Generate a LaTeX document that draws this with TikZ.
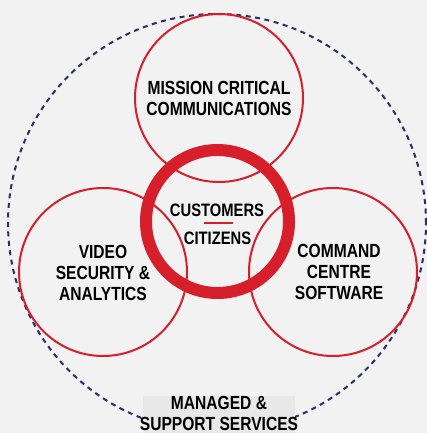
\documentclass[tikz,border=0pt]{standalone}
\usepackage{fontspec}
\newfontfamily\condfont{Liberation Sans}[FakeStretch=0.82]
\definecolor{bgc}{HTML}{F2F2F2}
\definecolor{boxc}{HTML}{E8E8E8}
\definecolor{redc}{HTML}{D71E2B}
\definecolor{navyc}{HTML}{2E2A6C}
\begin{document}
\begin{tikzpicture}[x=1pt,y=-1pt,
  thincirc/.style={circle,draw=redc,line width=2pt,minimum size=168pt,inner sep=0pt},
  lbl/.style={font=\condfont\bfseries\fontsize{19}{21}\selectfont,align=center,inner sep=0pt,text=black},
  clbl/.style={font=\condfont\bfseries\fontsize{18}{20}\selectfont,align=center,inner sep=0pt,text=black}]
\fill[bgc] (0,0) rectangle (427,433);
\useasboundingbox (0,0) rectangle (427,433);
% outer dashed circle
\node[circle,draw=navyc,line width=2pt,dash pattern=on 5pt off 4.5pt,minimum size=418pt,inner sep=0pt] (outer) at (217,223) {};
% label box
\node[fill=boxc,minimum width=152pt,minimum height=40pt,inner sep=0pt,anchor=north] (mbox) at (219,396) {};
\node[lbl] (mtext) at (219,413) {MANAGED \&\\SUPPORT SERVICES};
% three circles
\node[thincirc] (top) at (219,98) {};
\node[thincirc] (left) at (103,272) {};
\node[thincirc] (right) at (333,272) {};
% central ring
\node[circle,draw=redc,line width=12pt,minimum size=143pt,inner sep=0pt] (ring) at (217.5,221.5) {};
% texts
\node[lbl] (toptext) at (219,98.5) {MISSION CRITICAL\\COMMUNICATIONS};
\node[lbl] (lefttext) at (103,273) {VIDEO\\SECURITY \&\\ANALYTICS};
\node[lbl] (righttext) at (339,272) {COMMAND\\CENTRE\\SOFTWARE};
\node[clbl] (cust) at (217,210) {CUSTOMERS};
\node[clbl] (citz) at (217.5,238) {CITIZENS};
\coordinate (sepl) at (204,223);
\coordinate (sepr) at (233,223);
\draw[redc,line width=1.5pt] (sepl) -- (sepr);
\end{tikzpicture}
\end{document}
